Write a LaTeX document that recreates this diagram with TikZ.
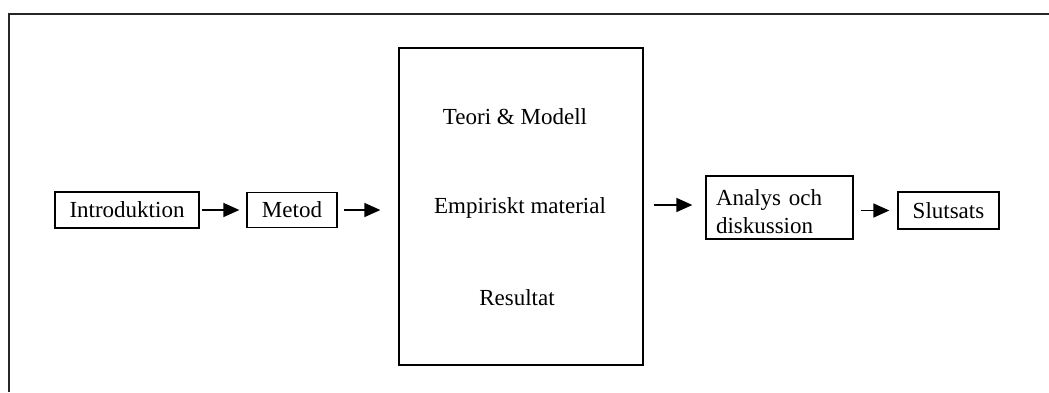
\documentclass[tikz,border=0pt]{standalone}
\usepackage{fontspec}
\setmainfont{Liberation Serif}
\usetikzlibrary{arrows.meta}
\tikzset{
  ruta/.style={draw, line width=1.3pt, inner sep=0pt, font=\fontsize{23}{28}\selectfont},
  etikett/.style={inner sep=0pt, font=\fontsize{23}{28}\selectfont},
  pil/.style={line width=1.6pt, -{Triangle[length=16pt,width=14pt]}}
}
\begin{document}
\begin{tikzpicture}[x=1pt,y=-1pt]
              \useasboundingbox (0,0) rectangle (1049,392);
              % Ram
              \draw[line width=1.5pt, black!85] (1049,14) -- (9,14) -- (9,392);

              % Rutor
              \node[ruta, minimum width=144pt, minimum height=36pt] (intro) at (127,210) {Introduktion};
              \node[ruta, minimum width=90pt, minimum height=35pt] (metod) at (292,210) {Metod};
              \node[ruta, minimum width=244pt, minimum height=317pt] (mitt) at (521,206.5) {};
              \node[ruta, minimum width=147pt, minimum height=63pt, text width=127pt, inner xsep=10pt, align=left] (analys) at (779.5,207.5) {\rule{0pt}{25pt}Analys och\\diskussion};
              \node[ruta, minimum width=101pt, minimum height=37pt] (slutsats) at (948.5,210.5) {Slutsats};

              % Texter i mittrutan
              \node[etikett] (teori) at (515,117) {Teori \& Modell};
              \node[etikett] (empiri) at (520,208) {Empiriskt material};
              \node[etikett] (resultat) at (517,298) {Resultat};

              % Pilar
              \draw[pil, shorten <=2pt, shorten >=7pt] (intro.east) -- (metod.west);
              \draw[pil, shorten <=6pt, shorten >=18pt] (metod.east) -- (metod.east -| mitt.west);
              \draw[pil, shorten <=10pt, shorten >=13pt] (mitt.east |- 0,205) -- (analys.west |- 0,205);
              \draw[pil, shorten <=7pt, shorten >=8pt] (analys.east |- slutsats.west) -- (slutsats.west);

            \end{tikzpicture}
\end{document}
